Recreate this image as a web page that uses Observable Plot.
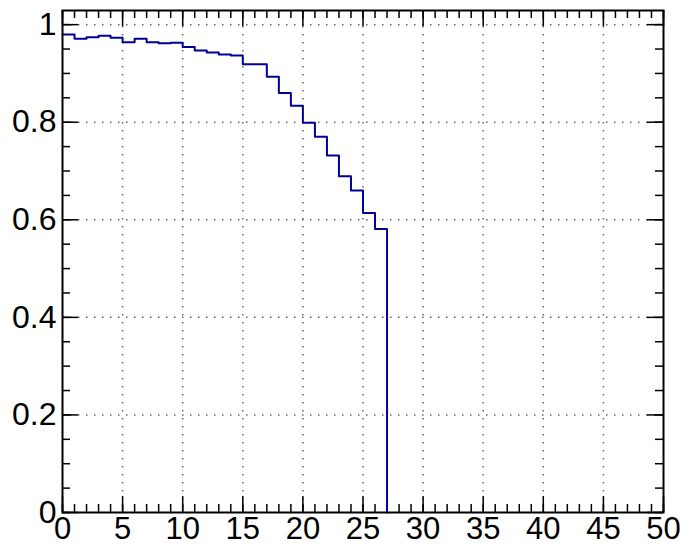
<!DOCTYPE html>
<html>
<head>
<meta charset="utf-8">
<script src="https://cdn.jsdelivr.net/npm/d3@7"></script>
<script src="https://cdn.jsdelivr.net/npm/@observablehq/plot@0.6"></script>
<style>
  html, body { margin: 0; padding: 0; background: #fff; }
  #chart svg { display: block; font-family: "Liberation Sans", Arial, sans-serif; }
</style>
</head>
<body>
<div id="chart"></div>
<script>
// Histogram: bin low edges (width 1) and contents
const binEdges = [0,1,2,3,4,5,6,7,8,9,10,11,12,13,14,15,16,17,18,19,20,21,22,23,24,25,26];
const binValues = [0.980,0.971,0.974,0.977,0.973,0.964,0.971,0.964,0.962,0.963,
                   0.954,0.947,0.943,0.939,0.937,0.919,0.919,0.893,0.860,0.834,
                   0.799,0.770,0.732,0.689,0.660,0.614,0.581];
const lastEdge = 27;

const xMajorTicks = [0,5,10,15,20,25,30,35,40,45,50];
const xMinorTicks = d3.range(0, 51, 1);
const yMajorTicks = [0,0.2,0.4,0.6,0.8,1];
const yMinorTicks = d3.range(0, 21).map(i => i * 0.05);
const yTickLabels = ["0","0.2","0.4","0.6","0.8","1"];

const xMax = 50;
const yMax = 1.05 * d3.max(binValues);

// Step outline points
const pts = binEdges.map((e, i) => ({x: e, y: binValues[i]}));
pts.push({x: lastEdge, y: binValues[binValues.length - 1]});
pts.push({x: lastEdge, y: 0});

const W = 682, H = 547;
const mL = 62, mR = 19, mT = 10, mB = 35;
const pxPerX = (W - mL - mR) / xMax;
const pxPerY = (H - mT - mB) / yMax;
const majLen = 16, minLen = 8;

const chart = Plot.plot({
  width: W,
  height: H,
  marginLeft: mL,
  marginRight: mR,
  marginTop: mT,
  marginBottom: mB,
  x: {domain: [0, xMax], label: null},
  y: {domain: [0, yMax], label: null},
  marks: [
    Plot.gridX(xMajorTicks.filter(d => d > 0 && d < xMax), {stroke: "#666", strokeOpacity: 1, strokeWidth: 1.5, strokeDasharray: "1.5,6.5"}),
    Plot.gridY(yMajorTicks.filter(d => d > 0), {stroke: "#666", strokeOpacity: 1, strokeWidth: 1.5, strokeDasharray: "1.5,6.5"}),
    // bottom & top x ticks (inward)
    Plot.ruleX(xMinorTicks, {y1: 0, y2: minLen / pxPerY, stroke: "#000", strokeWidth: 1.5}),
    Plot.ruleX(xMajorTicks, {y1: 0, y2: majLen / pxPerY, stroke: "#000", strokeWidth: 1.5}),
    Plot.ruleX(xMinorTicks, {y1: yMax - minLen / pxPerY, y2: yMax, stroke: "#000", strokeWidth: 1.5}),
    Plot.ruleX(xMajorTicks, {y1: yMax - majLen / pxPerY, y2: yMax, stroke: "#000", strokeWidth: 1.5}),
    // left & right y ticks (inward)
    Plot.ruleY(yMinorTicks, {x1: 0, x2: minLen / pxPerX, stroke: "#000", strokeWidth: 1.5}),
    Plot.ruleY(yMajorTicks, {x1: 0, x2: majLen / pxPerX, stroke: "#000", strokeWidth: 1.5}),
    Plot.ruleY(yMinorTicks, {x1: xMax - minLen / pxPerX, x2: xMax, stroke: "#000", strokeWidth: 1.5}),
    Plot.ruleY(yMajorTicks, {x1: xMax - majLen / pxPerX, x2: xMax, stroke: "#000", strokeWidth: 1.5}),
    Plot.line(pts, {x: "x", y: "y", curve: "step-after", stroke: "#000099", strokeWidth: 2}),
    Plot.frame({stroke: "#000", strokeWidth: 2}),
    Plot.axisX(xMajorTicks, {tickSize: 0, tickPadding: 4, fontSize: 31, fill: "#000", label: null, tickFormat: d => String(d)}),
    Plot.axisY(yMajorTicks, {tickSize: 0, tickPadding: 6, fontSize: 32, fill: "#000", label: null, tickFormat: d => yTickLabels[yMajorTicks.indexOf(d)]})
  ]
});

document.getElementById("chart").appendChild(chart);
</script>
</body>
</html>
